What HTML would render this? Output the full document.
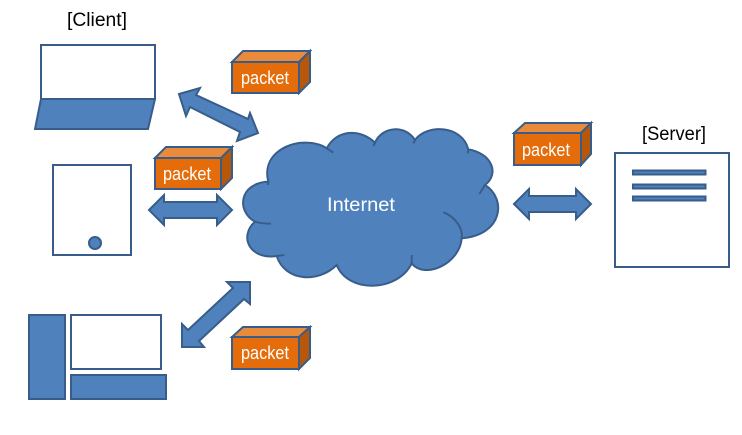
<!DOCTYPE html>
<html>
<head>
<meta charset="utf-8">
<style>
html,body{margin:0;padding:0;background:#fff;width:742px;height:435px;overflow:hidden}
svg{display:block}
text{font-family:"Liberation Sans",sans-serif}
.b{fill:#4f81bd;stroke:#385d8a;stroke-width:2;stroke-linejoin:miter}
.w{fill:#fff;stroke:#385d8a;stroke-width:2}
.f{fill:#e46c0a;stroke:#385d8a;stroke-width:2}
.t{fill:#e98b3b;stroke:#385d8a;stroke-width:2}
.s{fill:#b6570a;stroke:#385d8a;stroke-width:2}
.p{fill:#fff;font-size:18px}
.l{fill:#000;font-size:19px}
</style>
</head>
<body>
<svg width="742" height="435" viewBox="0 0 742 435" xmlns="http://www.w3.org/2000/svg">
<rect width="742" height="435" fill="#fff"/>

<text class="l" x="67" y="26" textLength="60" lengthAdjust="spacingAndGlyphs">[Client]</text>
<text class="l" x="642" y="140" textLength="64" lengthAdjust="spacingAndGlyphs">[Server]</text>

<!-- laptop -->
<rect class="w" x="41" y="45" width="114" height="54"/>
<polygon class="b" points="41,99 155,99 148,129 35,129"/>

<!-- tablet -->
<rect class="w" x="53" y="165" width="78" height="90"/>
<circle class="b" cx="95" cy="243" r="6"/>

<!-- desktop -->
<rect class="b" x="29" y="315" width="36" height="84"/>
<rect class="w" x="71" y="315" width="90" height="54"/>
<rect class="b" x="71" y="375" width="95" height="24"/>

<!-- server -->
<rect class="w" x="615" y="153" width="114" height="114"/>
<rect class="b" x="633" y="170.500" width="72.500" height="4"/>
<rect class="b" x="633" y="184.500" width="72.500" height="4"/>
<rect class="b" x="633" y="196.500" width="72.500" height="4"/>

<!-- arrows -->
<polygon class="b" points="179,94 200,88 196,95 248,119 250,113 258,133 237,141 240,132 190,107 186,116"/>
<polygon class="b" points="149,210 164,195 164,202 217,202 217,195 232,210 217,225 217,218 164,218 164,225"/>
<polygon class="b" points="514,204 529,189 529,196 576,196 576,189 591,204 576,219 576,212 529,212 529,219"/>
<polygon class="b" points="250,282 227,282 233,288 188,330 182,324 182,347 204,347 199,341 244,299 250,304"/>

<!-- cloud -->
<g transform="translate(235,120) scale(0.33333)">
<path d="M100,185 C80,110 150,68 210,68 C240,68 262,76 275,85 C305,28 375,25 420,68 C440,20 510,12 540,60 C575,12 680,14 700,88 C770,100 795,160 750,195 C815,235 805,345 680,355 C675,430 570,480 530,430 C490,515 340,522 305,435 C250,490 150,485 125,408 C45,420 10,350 60,305 C5,275 10,190 100,185 Z" fill="#4f81bd" stroke="#385d8a" stroke-width="6"/>
<path d="M100,185 L98,195 M275,85 L295,98 M420,68 L415,78 M540,60 L535,70 M700,88 L698,100 M750,195 L733,222 M680,355 C685,325 660,290 625,277 M530,430 L530,405 M125,408 L148,405 M60,305 Q80,311 108,311" fill="none" stroke="#385d8a" stroke-width="6"/>
</g>
<text x="327" y="211" fill="#fff" font-size="19" textLength="68" lengthAdjust="spacingAndGlyphs">Internet</text>

<!-- packet 1 -->
<polygon class="t" points="232,62 243,51 310,51 299,62"/>
<polygon class="s" points="299,62 310,51 310,82 299,93"/>
<rect class="f" x="232" y="62" width="67" height="31"/>
<text class="p" x="241" y="84" textLength="48" lengthAdjust="spacingAndGlyphs">packet</text>

<!-- packet 2 -->
<polygon class="t" points="155,158 166,147 232,147 221,158"/>
<polygon class="s" points="221,158 232,147 232,178 221,189"/>
<rect class="f" x="155" y="158" width="66" height="31"/>
<text class="p" x="163" y="180" textLength="48" lengthAdjust="spacingAndGlyphs">packet</text>

<!-- packet 3 -->
<polygon class="t" points="232,337 243,327 310,327 299,337"/>
<polygon class="s" points="299,337 310,327 310,358 299,369"/>
<rect class="f" x="232" y="337" width="67" height="32"/>
<text class="p" x="241" y="359" textLength="48" lengthAdjust="spacingAndGlyphs">packet</text>

<!-- packet 4 -->
<polygon class="t" points="514,133 525,123 591,123 581,133"/>
<polygon class="s" points="581,133 591,123 591,154 581,165"/>
<rect class="f" x="514" y="133" width="67" height="32"/>
<text class="p" x="522" y="156" textLength="48" lengthAdjust="spacingAndGlyphs">packet</text>
</svg>
</body>
</html>
